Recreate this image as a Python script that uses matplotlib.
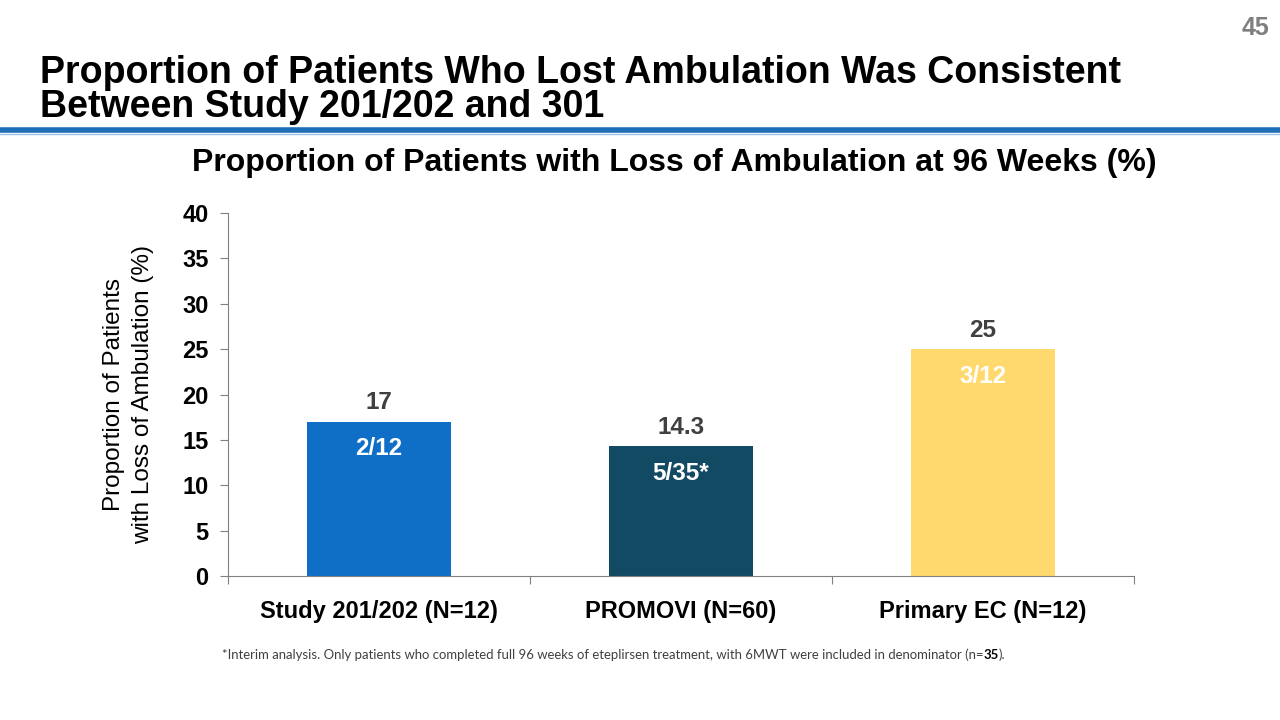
import matplotlib.pyplot as plt
from matplotlib.lines import Line2D

# Chart data
groups = ["Study 201/202 (N=12)", "PROMOVI (N=60)", "Primary EC (N=12)"]
values = [17, 14.3, 25]
value_labels = ["17", "14.3", "25"]
inner_labels = ["2/12", "5/35*", "3/12"]
colors = ["#0F6FC6", "#124A63", "#FFD96E"]
inner_colors = ["white", "white", "white"]
yticks = [0, 5, 10, 15, 20, 25, 30, 35, 40]

plt.rcParams['font.family'] = ['Liberation Sans', 'DejaVu Sans']

fig = plt.figure(figsize=(12.8, 7.2), dpi=100)

# Slide header (va='baseline' anchors the last line)
fig.text(40 / 1280, 1 - 117 / 720,
         "Proportion of Patients Who Lost Ambulation Was Consistent\n"
         "Between Study 201/202 and 301",
         fontsize=27, fontweight='bold', va='baseline', ha='left', linespacing=0.93)
fig.text(1256 / 1280, 1 - 28 / 720, "45", fontsize=18, fontweight='bold',
         color='#7F7F7F', va='center', ha='center')
fig.add_artist(Line2D([0, 1], [1 - 130 / 720] * 2, color='#1F6FB8', lw=4,
                      transform=fig.transFigure))
fig.add_artist(Line2D([0, 1], [1 - 133.5 / 720] * 2, color='#9CC3E6', lw=1,
                      transform=fig.transFigure))

# Chart title
fig.text(674 / 1280, 1 - 163 / 720,
         "Proportion of Patients with Loss of Ambulation at 96 Weeks (%)",
         fontsize=23, fontweight='bold', va='center', ha='center')

ax = fig.add_axes([228 / 1280, 1 - 576 / 720, 906 / 1280, 363 / 720])
x = list(range(len(groups)))
ax.bar(x, values, width=0.48, color=colors)
ax.set_xlim(-0.5, 2.5)
ax.set_ylim(0, 40)
ax.set_yticks(yticks)
ax.set_yticklabels([str(t) for t in yticks], fontsize=17, fontweight='bold')

ax.set_xticks([-0.5, 0.5, 1.5, 2.5])
ax.set_xticklabels([])
ax.set_xticks(x, minor=True)
ax.set_xticklabels(groups, minor=True, fontsize=17, fontweight='bold')
ax.tick_params(axis='x', which='minor', length=0, pad=17)
ax.tick_params(axis='x', which='major', length=6, color='#808080')
ax.tick_params(axis='y', length=6, color='#808080', pad=8)

for s in ['top', 'right']:
    ax.spines[s].set_visible(False)
for s in ['left', 'bottom']:
    ax.spines[s].set_color('#808080')

for xi, v, lab, inner, c in zip(x, values, value_labels, inner_labels, inner_colors):
    ax.text(xi, v + 2.1, lab, ha='center', va='center', fontsize=17.5,
            fontweight='bold', color='#404040')
    ax.text(xi, v - 3.0, inner, ha='center', va='center', fontsize=17.5,
            fontweight='bold', color=c)

ax.set_ylabel("Proportion of Patients\nwith Loss of Ambulation (%)", fontsize=17.5,
              linespacing=1.4)
ax.yaxis.set_label_coords(-0.082, 0.5)

# Footnote
foot_font = ['Lato', 'DejaVu Sans']
foot = fig.text(222 / 1280, 1 - 655 / 720,
                "*Interim analysis. Only patients who completed full 96 weeks of eteplirsen "
                "treatment, with 6MWT were included in denominator (n=",
                fontsize=9.45, color='#404040', family=foot_font,
                va='center', ha='left')
fig.canvas.draw()
bb = foot.get_window_extent()
t2 = fig.text(bb.x1 / fig.bbox.width, 1 - 655 / 720, "35", fontsize=9.45, color='black',
              fontweight='bold', family=foot_font, va='center', ha='left')
fig.canvas.draw()
bb2 = t2.get_window_extent()
fig.text(bb2.x1 / fig.bbox.width, 1 - 655 / 720, ").", fontsize=9.45, color='#404040',
         family=foot_font, va='center', ha='left')

fig.savefig("out.png", dpi=100)
